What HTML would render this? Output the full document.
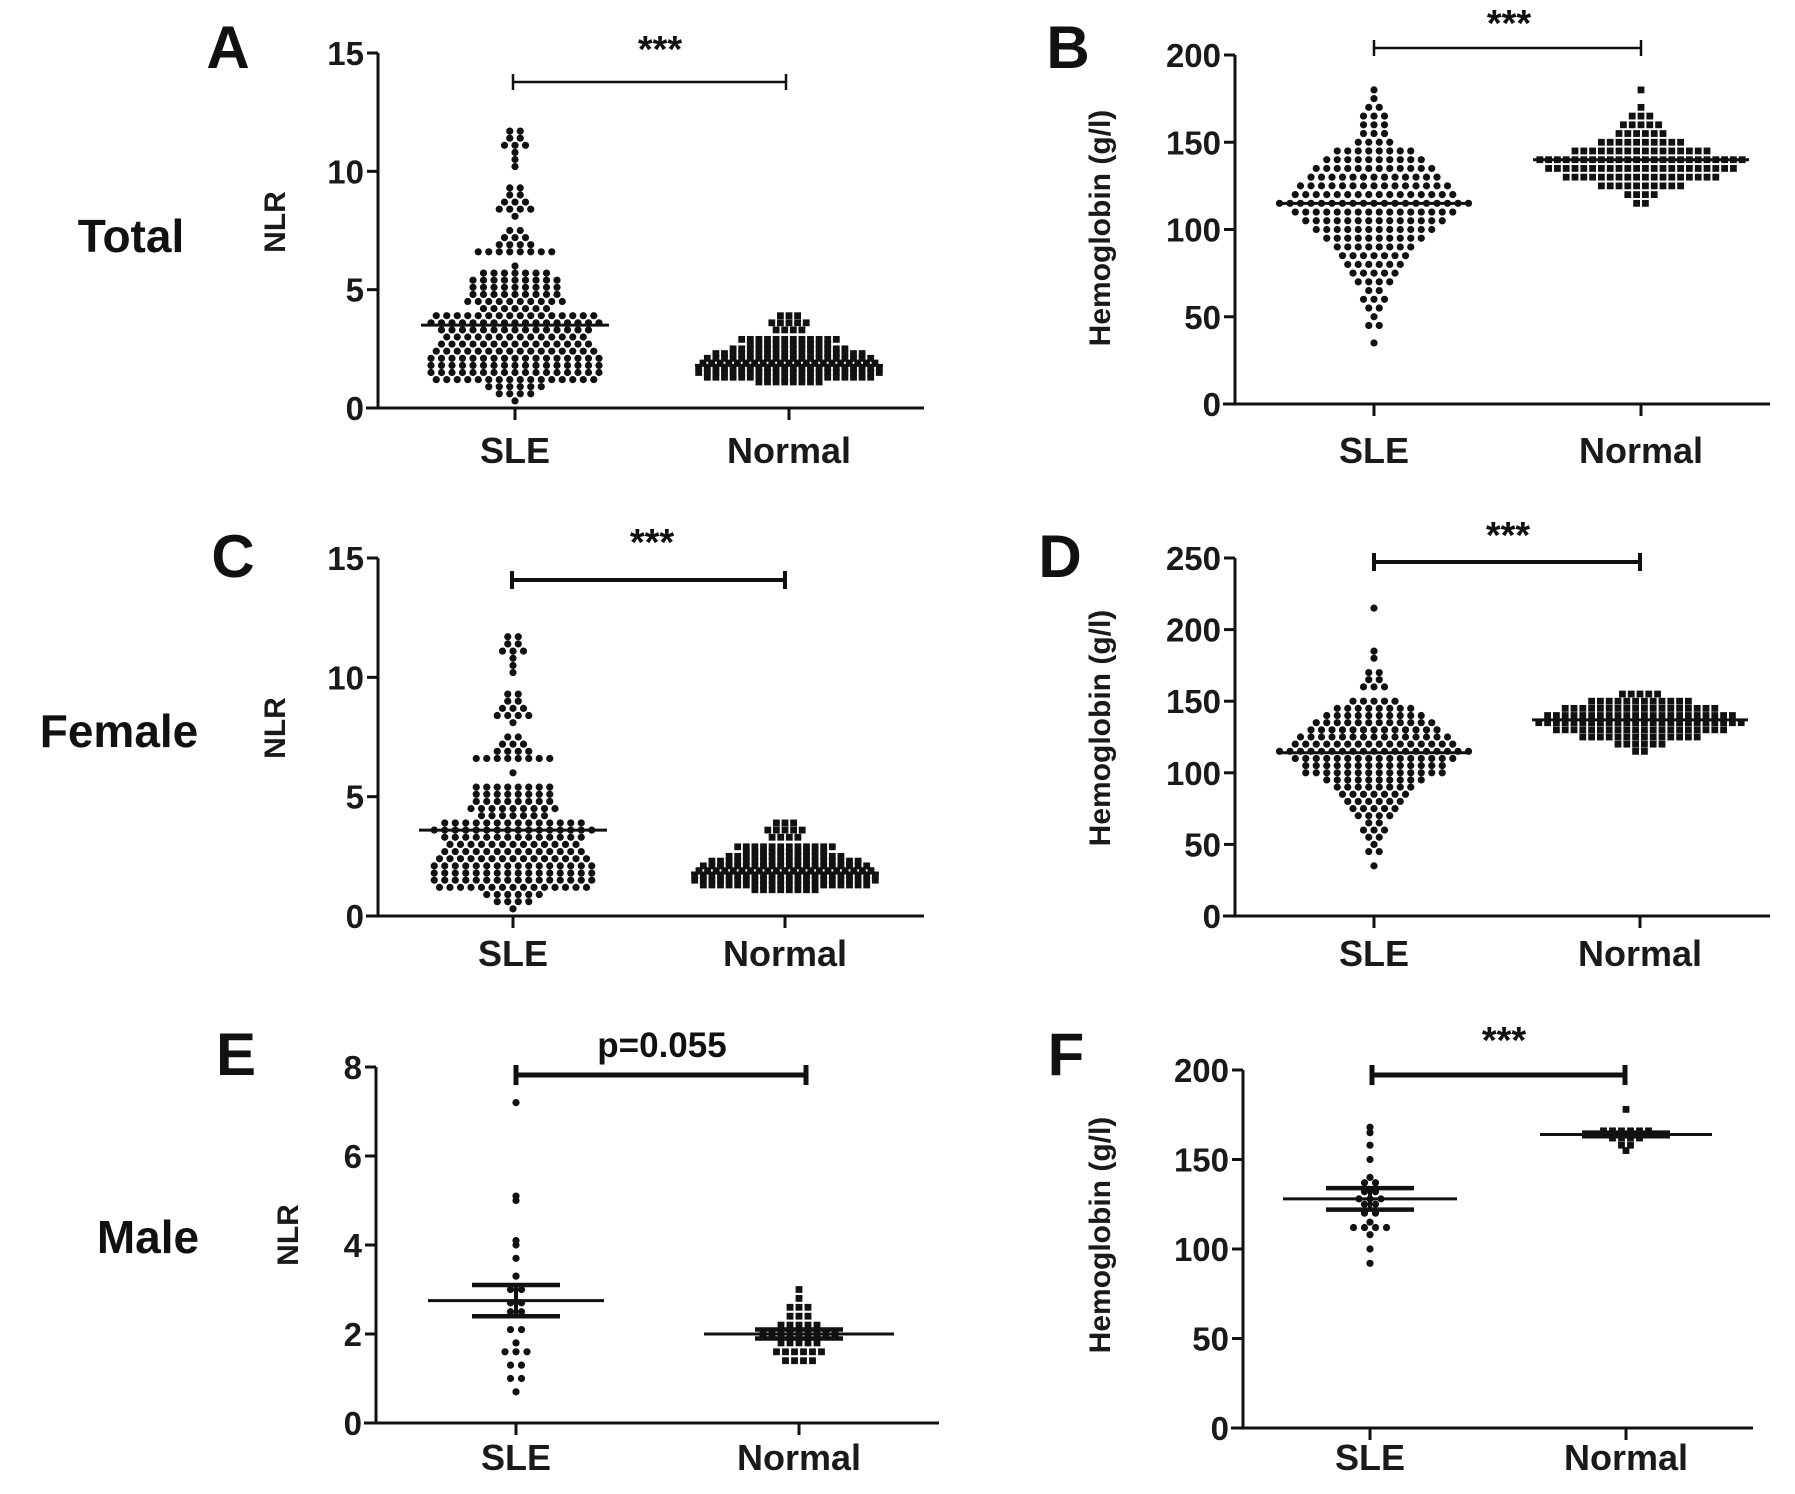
<!DOCTYPE html>
<html><head><meta charset="utf-8"><style>
html,body{margin:0;padding:0;background:#fff;}
svg{display:block;font-family:"Liberation Sans",Arial,sans-serif;}
</style></head><body>
<svg id="fig" width="1795" height="1494" viewBox="0 0 1795 1494" xmlns="http://www.w3.org/2000/svg"></svg>
<script>
// ---------- DATA ----------
const categories = ["SLE","Normal"];
// Panel A (Total NLR) histogram rows: value -> count
const aSleVals   = [0.3,0.6,0.9,1.2,1.5,1.8,2.1,2.4,2.7,3.0,3.3,3.6,3.9,4.2,4.5,4.8,5.1,5.4,5.7,6.0,6.6,6.9,7.2,7.5,8.1,8.4,8.7,9.0,9.3,10.2,10.5,10.8,11.1,11.4,11.7];
const aSleCounts = [1,4,6,16,17,17,17,16,15,14,15,17,16,7,10,9,9,9,7,1,8,4,3,2,1,4,3,2,2,1,1,1,3,2,2];
const aNorVals   = [1.1,1.3,1.5,1.7,1.9,2.1,2.3,2.5,2.7,2.9,3.3,3.6,3.9];
const aNorCounts = [8,20,22,22,21,20,18,14,10,12,4,5,3];
const aMeans = [3.5,1.8];
// Panel B (Total hemoglobin)
const bSleVals   = [35,45,50,55,60,65,70,75,80,85,90,95,100,105,110,115,120,125,130,135,140,145,150,155,160,165,170,175,180];
const bSleCounts = [1,2,1,2,3,2,4,5,6,7,8,10,12,14,16,19,16,15,13,12,10,8,4,3,3,3,2,1,1];
const bNorVals   = [115,120,125,130,135,140,145,150,155,160,165,170,180];
const bNorCounts = [2,4,10,18,22,24,16,10,6,5,3,1,1];
const bMeans = [115,140];
// Panel C (Female NLR)
const cSleVals   = [0.3,0.6,0.9,1.2,1.5,1.8,2.1,2.4,2.7,3.0,3.3,3.6,3.9,4.2,4.5,4.8,5.1,5.4,6.0,6.6,6.9,7.2,7.5,8.1,8.4,8.7,9.0,9.3,10.2,10.5,10.8,11.1,11.4,11.7];
const cSleCounts = [1,4,6,15,16,16,16,15,14,13,14,16,14,7,9,8,8,8,1,8,4,3,2,1,4,3,2,2,1,1,1,3,2,2];
const cNorVals   = [1.1,1.3,1.5,1.7,1.9,2.1,2.3,2.5,2.7,2.9,3.3,3.6,3.9];
const cNorCounts = [8,20,22,22,21,20,18,14,10,12,4,5,3];
const cMeans = [3.6,1.8];
// Panel D (Female hemoglobin)
const dSleVals   = [35,45,50,55,60,65,70,75,80,85,90,95,100,105,110,115,120,125,130,135,140,145,150,160,165,170,180,185,215];
const dSleCounts = [1,2,1,2,3,2,4,5,6,7,8,10,14,14,16,19,16,15,13,12,10,8,5,3,2,2,1,1,1];
const dNorVals   = [115,120,125,130,135,140,145,150,155];
const dNorCounts = [2,6,14,20,24,22,18,12,5];
const dMeans = [114,137];
// Panel E (Male NLR)
const eSleVals   = [0.7,1.0,1.3,1.6,1.8,2.1,2.5,2.7,3.0,3.3,3.7,4.0,4.1,5.0,5.1,7.2];
const eSleCounts = [1,2,2,3,1,2,2,2,2,1,1,1,1,1,1,1];
const eNorVals   = [1.4,1.6,1.8,2.0,2.2,2.4,2.6,2.8,3.0];
const eNorCounts = [4,6,5,9,5,3,3,1,1];
const eMeans = [2.75,2.0];
const eSem = [0.35,0.1];
// Panel F (Male hemoglobin)
const fSleVals   = [92,100,108,112,115,120,125,128,132,137,140,150,158,165,168];
const fSleCounts = [1,1,1,4,1,2,2,3,2,2,1,1,1,1,1];
const fNorVals   = [155,158,162,164,166,178];
const fNorCounts = [1,2,4,10,6,1];
const fMeans = [128,164];
const fSem = [6,1];

// ---------- DRAW ----------
const svg = document.getElementById('fig');
const NS = "http://www.w3.org/2000/svg";
function mk(tag, attrs, parent){
  const e = document.createElementNS(NS, tag);
  for (const k in attrs) e.setAttribute(k, attrs[k]);
  (parent||svg).appendChild(e);
  return e;
}

const panels = [
 {key:'a', ax:378, y0:408, yTop:53, yMax:15, ticks:[0,5,10,15], xEnd:924, cx:[515,789], br:{y:82,x1:513,x2:786,w:2.5,th:16}, star:{t:"***",x:660,y:62,fs:38},
  title:"NLR", tx:285, ty:222, letter:"A", lx:228, ly:46, catY:463, sle:[aSleVals,aSleCounts], nor:[aNorVals,aNorCounts], means:aMeans, dxS:10.5, dxN:8.6, mw:[94,94], semw:0},
 {key:'b', ax:1235, y0:404, yTop:55, yMax:200, ticks:[0,50,100,150,200], xEnd:1770, cx:[1374,1641], br:{y:48,x1:1374,x2:1641,w:2.5,th:16}, star:{t:"***",x:1509,y:36,fs:38},
  title:"Hemoglobin (g/l)", tx:1110, ty:228, letter:"B", lx:1068, ly:46, catY:463, sle:[bSleVals,bSleCounts], nor:[bNorVals,bNorCounts], means:bMeans, dxS:10.5, dxN:8.8, mw:[94,108], semw:0},
 {key:'c', ax:378, y0:916, yTop:558, yMax:15, ticks:[0,5,10,15], xEnd:924, cx:[513,785], br:{y:580,x1:512,x2:785,w:4,th:18}, star:{t:"***",x:652,y:555,fs:38},
  title:"NLR", tx:285, ty:728, letter:"C", lx:233, ly:555, catY:966, sle:[cSleVals,cSleCounts], nor:[cNorVals,cNorCounts], means:cMeans, dxS:10.5, dxN:8.6, mw:[94,94], semw:0},
 {key:'d', ax:1235, y0:916, yTop:558, yMax:250, ticks:[0,50,100,150,200,250], xEnd:1770, cx:[1374,1640], br:{y:562,x1:1374,x2:1640,w:4,th:18}, star:{t:"***",x:1508,y:548,fs:38},
  title:"Hemoglobin (g/l)", tx:1110, ty:728, letter:"D", lx:1060, ly:555, catY:966, sle:[dSleVals,dSleCounts], nor:[dNorVals,dNorCounts], means:dMeans, dxS:10.5, dxN:8.8, mw:[94,108], semw:0},
 {key:'e', ax:376, y0:1423, yTop:1067, yMax:8, ticks:[0,2,4,6,8], xEnd:939, cx:[516,799], br:{y:1075,x1:516,x2:806,w:5,th:20}, star:{t:"p=0.055",x:662,y:1057,fs:35},
  title:"NLR", tx:298, ty:1235, letter:"E", lx:236, ly:1053, catY:1470, sle:[eSleVals,eSleCounts], nor:[eNorVals,eNorCounts], means:eMeans, sem:eSem, dxS:11, dxN:9, mw:[88,95], semw:44},
 {key:'f', ax:1243, y0:1428, yTop:1070, yMax:200, ticks:[0,50,100,150,200], xEnd:1753, cx:[1370,1626], br:{y:1075,x1:1372,x2:1625,w:5,th:20}, star:{t:"***",x:1504,y:1053,fs:38},
  title:"Hemoglobin (g/l)", tx:1110, ty:1235, letter:"F", lx:1066, ly:1053, catY:1470, sle:[fSleVals,fSleCounts], nor:[fNorVals,fNorCounts], means:fMeans, sem:fSem, dxS:11, dxN:9, mw:[87,86], semw:44}
];

panels.forEach(p=>{
  const g = mk('g', {});
  
  
  const y = v => p.y0 - (v/p.yMax)*(p.y0-p.yTop);
  const ya = mk('line',{x1:p.ax,y1:p.yTop,x2:p.ax,y2:p.y0,stroke:'#111','stroke-width':3},g);
  
  
  const xa = mk('line',{x1:p.ax-12,y1:p.y0,x2:p.xEnd,y2:p.y0,stroke:'#111','stroke-width':3},g);
  
  
  p.ticks.forEach(t=>{
    mk('line',{x1:p.ax-11,y1:y(t),x2:p.ax,y2:y(t),stroke:'#111','stroke-width':3},g);
    const tl = mk('text',{x:p.ax-14,y:y(t)+12,'text-anchor':'end','font-size':33,'font-weight':'bold',fill:'#1a1a1a'},g);
    tl.textContent = t;
    
    
  });
  categories.forEach((c,i)=>{
    mk('line',{x1:p.cx[i],y1:p.y0,x2:p.cx[i],y2:p.y0+12,stroke:'#111','stroke-width':3},g);
    const cl = mk('text',{x:p.cx[i],y:p.catY,'text-anchor':'middle','font-size':36,'font-weight':'bold',fill:'#1a1a1a'},g);
    cl.textContent = c;
    
    
  });
  const yt = mk('text',{x:p.tx,y:p.ty,transform:`rotate(-90 ${p.tx} ${p.ty})`,'text-anchor':'middle','font-size':30,'font-weight':'bold',fill:'#1a1a1a'},g);
  yt.textContent = p.title;
  
  
  const lt = mk('text',{x:p.lx,y:p.ly+22,'text-anchor':'middle','font-size':60,'font-weight':'bold',fill:'#111'},g);
  lt.textContent = p.letter;
  
  
  [p.sle,p.nor].forEach((grp,gi)=>{
    const vals = grp[0], cnts = grp[1];
    const dx = gi===0?p.dxS:p.dxN;
    vals.forEach((v,ri)=>{
      const n = cnts[ri];
      for(let k=0;k<n;k++){
        const x = p.cx[gi] + (k-(n-1)/2)*dx;
        let d;
        if(gi===0){
          d = mk('circle',{cx:x,cy:y(v),r:3.6,fill:'#111'},g);
        } else {
          d = mk('rect',{x:x-3.4,y:y(v)-3.4,width:6.8,height:6.8,fill:'#111'},g);
        }
        
        
      }
    });
  });
  p.means.forEach((m,i)=>{
    const ml = mk('line',{x1:p.cx[i]-p.mw[i],y1:y(m),x2:p.cx[i]+p.mw[i],y2:y(m),stroke:'#111','stroke-width':3},g);
    
    
    if(p.sem){
      [m+p.sem[i], m-p.sem[i]].forEach(sv=>{
        const sl = mk('line',{x1:p.cx[i]-p.semw,y1:y(sv),x2:p.cx[i]+p.semw,y2:y(sv),stroke:'#111','stroke-width':4.5},g);
        
        
      });
      mk('line',{x1:p.cx[i],y1:y(m+p.sem[i]),x2:p.cx[i],y2:y(m-p.sem[i]),stroke:'#111','stroke-width':4},g);
    }
  });
  const b = p.br;
  const bg = mk('g',{stroke:'#111','stroke-width':b.w},g);
  
  
  mk('line',{x1:b.x1,y1:b.y,x2:b.x2,y2:b.y},bg);
  mk('line',{x1:b.x1,y1:b.y-b.th/2,x2:b.x1,y2:b.y+b.th/2},bg);
  mk('line',{x1:b.x2,y1:b.y-b.th/2,x2:b.x2,y2:b.y+b.th/2},bg);
  const st = mk('text',{x:p.star.x,y:p.star.y,'text-anchor':'middle','font-size':p.star.fs,'font-weight':'bold',fill:'#111'},g);
  st.textContent = p.star.t;
  
  
});

[["Total",131,236],["Female",119,731],["Male",148,1237]].forEach(r=>{
  const t = mk('text',{x:r[1],y:r[2]+16,'text-anchor':'middle','font-size':46,'font-weight':'bold',fill:'#111'});
  t.textContent = r[0];
  
  
});
</script>
</body></html>
